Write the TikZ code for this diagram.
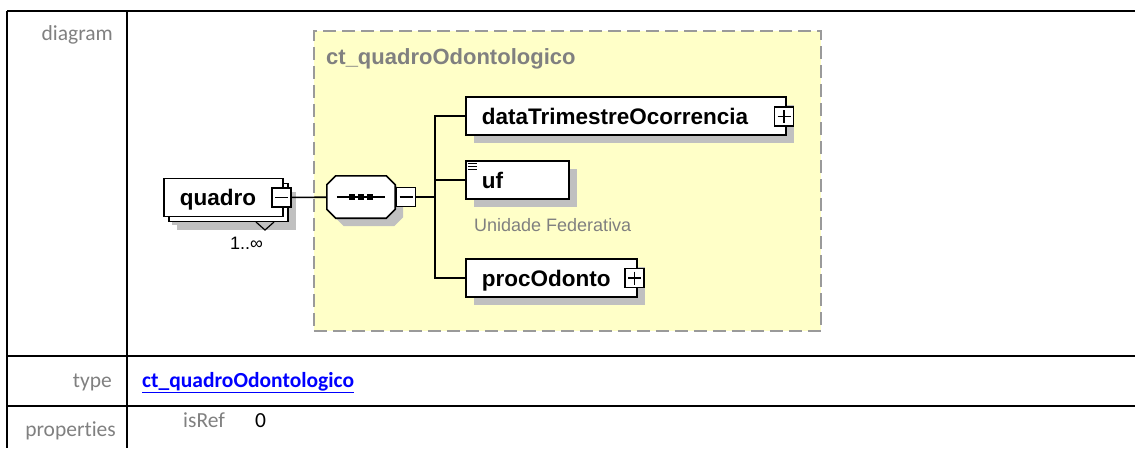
\documentclass[tikz,border=0pt]{standalone}
\usepackage{fontspec}
\usetikzlibrary{shadows}
\setmainfont[Ligatures=NoCommon]{Carlito}
\newfontfamily\diagfont{Liberation Sans}
\definecolor{XsdYellow}{HTML}{FFFFC8}
\definecolor{XsdFrame}{HTML}{9A9A9A}
\definecolor{XsdGrey}{HTML}{808080}
\definecolor{XsdShade}{HTML}{C0C0C0}
\definecolor{XsdLink}{HTML}{0000FF}

\begin{document}
\begin{tikzpicture}[x=1pt,y=-1pt,font=\fontsize{21.5}{25}\selectfont,line join=miter]
\tikzset{
  rule/.style={black,line width=2.2pt},
  rowlab/.style={anchor=base east,text=XsdGrey,inner sep=0pt},
  ctframe/.style={draw=XsdFrame,fill=XsdYellow,line width=1.8pt,dash pattern=on 13pt off 6pt,
                  minimum width=507pt,minimum height=300pt,anchor=north west,inner sep=0pt},
  cttitle/.style={anchor=base west,inner sep=0pt,text=XsdGrey,
                  font=\diagfont\bfseries\fontsize{22}{26}\selectfont},
  elem/.style={draw,line width=1.6pt,fill=white,anchor=west,align=left,
               inner xsep=16pt,minimum height=38pt,text height=16pt,text depth=0pt,
               font=\diagfont\bfseries\fontsize{22.5}{26}\selectfont,
               drop shadow={shadow xshift=8pt,shadow yshift=-8pt,fill=XsdShade,opacity=1}},
  pmbox/.style={draw,line width=1.4pt,fill=white,minimum width=19pt,minimum height=19pt,inner sep=0pt},
  minus/.style={pmbox,path picture={
      \draw[line width=1.4pt] ([xshift=3pt]path picture bounding box.west)
                           -- ([xshift=-3pt]path picture bounding box.east);}},
  plus/.style={pmbox,path picture={
      \draw[line width=1.4pt] ([xshift=3pt]path picture bounding box.west)
                           -- ([xshift=-3pt]path picture bounding box.east);
      \draw[line width=1.4pt] ([yshift=-3pt]path picture bounding box.north)
                           -- ([yshift=3pt]path picture bounding box.south);}},
  seqbox/.style={minimum width=68pt,minimum height=42pt,inner sep=0pt},
  wire/.style={black,line width=1.6pt},
  note/.style={anchor=base west,inner sep=0pt,text=XsdGrey,font=\diagfont\fontsize{18}{22}\selectfont}
}
\useasboundingbox (0,0) rectangle (1135,448);

% ---------- table ---------------------------------------------------------
\draw[rule] (7,11) -- (1135,11);
\draw[rule] (7,356) -- (1135,356);
\draw[rule] (7,406) -- (1135,406);
\draw[rule] (7,11) -- (7,448);
\draw[rule] (127,11) -- (127,448);

\node[rowlab] (labdiag)  at (113,40)  {diagram};
\node[rowlab] (labtype)  at (112,387) {type};
\node[rowlab] (labprops) at (116,436) {properties};
\node[anchor=base west,inner sep=0pt,text=XsdLink,font=\bfseries\fontsize{21.5}{25}\selectfont]
  (typelink) at (142,387) {\underline{ct\_quadroOdontologico}};
\node[anchor=base west,inner sep=0pt,text=XsdGrey] (isref) at (183,427) {isRef};
\node[anchor=base west,inner sep=0pt] (isrefval) at (255,427) {0};

% ---------- complex type frame ------------------------------------------
\node[ctframe] (ctbox) at (313,30) {};
\node[cttitle] (cttext) at (326,64) {ct\_quadroOdontologico};

% ---------- quadro ------------------------------------------------------
\node[elem,text width=87pt,
      drop shadow={shadow xshift=13pt,shadow yshift=-13pt,fill=XsdShade,opacity=1},
      copy shadow={shadow xshift=5pt,shadow yshift=-5pt,draw=black,fill=white,line width=1.6pt}]
  (quadro) at (163,197.5) {quadro};
\draw[line width=1.2pt] (256,222) -- (265,230) -- (274,222);
\node[anchor=base west,inner sep=0pt,font=\diagfont\fontsize{18}{22}\selectfont]
  (occurs) at (230,249) {1..∞};
\node[minus] (qminus) at (281.5,197.5) {};

% ---------- sequence ----------------------------------------------------
\node[seqbox] (seq) at (361,197) {};
\fill[XsdShade,transform canvas={xshift=8pt,yshift=-8pt}]
  ([xshift=9pt]seq.north west) -- ([xshift=-9pt]seq.north east)
  -- ([yshift=-9pt]seq.north east) -- ([yshift=9pt]seq.south east)
  -- ([xshift=-9pt]seq.south east) -- ([xshift=9pt]seq.south west)
  -- ([yshift=9pt]seq.south west) -- ([yshift=-9pt]seq.north west) -- cycle;
\draw[line width=1.6pt,fill=white]
  ([xshift=9pt]seq.north west) -- ([xshift=-9pt]seq.north east)
  -- ([yshift=-9pt]seq.north east) -- ([yshift=9pt]seq.south east)
  -- ([xshift=-9pt]seq.south east) -- ([xshift=9pt]seq.south west)
  -- ([yshift=9pt]seq.south west) -- ([yshift=-9pt]seq.north west) -- cycle;
\draw[line width=1.4pt] ([xshift=10pt]seq.west) -- ([xshift=-10pt]seq.east);
\foreach \dx in {-9,0,9}
  \fill ([xshift=\dx pt]seq.center) +(-2.8,-2.8) rectangle +(2.8,2.8);
\node[minus] (sminus) at (406,197) {};

% ---------- children ----------------------------------------------------
\node[elem,text width=288pt] (dto)  at (465,116) {dataTrimestreOcorrencia};
\node[elem,text width=71pt]  (uf)   at (465,180) {uf};
\node[elem,text width=139pt] (proc) at (465,278) {procOdonto};
\foreach \dy in {3,6,9}
  \draw[line width=1pt] ([shift={(3,\dy)}]uf.north west) -- ++(9,0);
\node[note] (ufdoc) at (474,231) {Unidade Federativa};
\node[plus] (dtoplus)  at (784,116.5) {};
\node[plus] (procplus) at (634.5,278) {};

% ---------- connectors --------------------------------------------------
\coordinate (fork) at (435,197);
\draw[wire] (qminus) -- (seq);
\draw[wire] (sminus) -- (fork);
\draw[wire] (fork) |- (dto.west);
\draw[wire] (fork) |- (uf.west);
\draw[wire] (fork) |- (proc.west);
\end{tikzpicture}
\end{document}
